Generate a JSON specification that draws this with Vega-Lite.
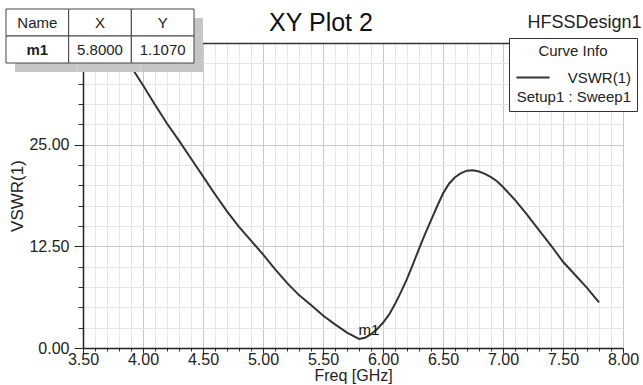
{
  "$schema": "https://vega.github.io/schema/vega-lite/v6.json",
  "width": 540,
  "height": 305,
  "autosize": {"type": "none"},
  "padding": {"left": 83, "top": 43, "right": 20, "bottom": 37},
  "background": "white",
  "title": {"text": "XY Plot 2", "fontSize": 25, "fontWeight": "normal", "color": "#111", "anchor": "middle", "frame": "group", "dx": -32, "offset": -27},
  "config": {"font": "Liberation Sans", "view": {"stroke": null}, "axis": {"zindex": 0}},
  "datasets": {
    "curve": [
      {"freq": 3.77, "vswr": 37.7}, {"freq": 3.9, "vswr": 34.6}, {"freq": 4.0, "vswr": 32.3},
      {"freq": 4.1, "vswr": 29.9}, {"freq": 4.2, "vswr": 27.6}, {"freq": 4.3, "vswr": 25.5},
      {"freq": 4.4, "vswr": 23.3}, {"freq": 4.5, "vswr": 21.1}, {"freq": 4.6, "vswr": 18.9},
      {"freq": 4.7, "vswr": 16.8}, {"freq": 4.8, "vswr": 14.9}, {"freq": 4.9, "vswr": 13.2},
      {"freq": 5.0, "vswr": 11.5}, {"freq": 5.1, "vswr": 9.7}, {"freq": 5.2, "vswr": 8.0},
      {"freq": 5.3, "vswr": 6.5}, {"freq": 5.4, "vswr": 5.3}, {"freq": 5.5, "vswr": 4.0},
      {"freq": 5.6, "vswr": 2.9}, {"freq": 5.7, "vswr": 1.9}, {"freq": 5.8, "vswr": 1.107},
      {"freq": 5.85, "vswr": 1.25}, {"freq": 5.9, "vswr": 1.7}, {"freq": 5.95, "vswr": 2.3},
      {"freq": 6.0, "vswr": 3.1}, {"freq": 6.05, "vswr": 4.1}, {"freq": 6.1, "vswr": 5.4},
      {"freq": 6.15, "vswr": 6.9}, {"freq": 6.2, "vswr": 8.5}, {"freq": 6.25, "vswr": 10.3},
      {"freq": 6.3, "vswr": 12.2}, {"freq": 6.35, "vswr": 14.0}, {"freq": 6.4, "vswr": 15.7},
      {"freq": 6.45, "vswr": 17.4}, {"freq": 6.5, "vswr": 19.0}, {"freq": 6.55, "vswr": 20.2},
      {"freq": 6.6, "vswr": 21.0}, {"freq": 6.65, "vswr": 21.5}, {"freq": 6.7, "vswr": 21.8},
      {"freq": 6.75, "vswr": 21.85}, {"freq": 6.8, "vswr": 21.7}, {"freq": 6.85, "vswr": 21.4},
      {"freq": 6.9, "vswr": 21.0}, {"freq": 6.95, "vswr": 20.5}, {"freq": 7.0, "vswr": 19.8},
      {"freq": 7.1, "vswr": 18.2}, {"freq": 7.2, "vswr": 16.4}, {"freq": 7.3, "vswr": 14.5},
      {"freq": 7.4, "vswr": 12.6}, {"freq": 7.5, "vswr": 10.6}, {"freq": 7.6, "vswr": 9.0},
      {"freq": 7.7, "vswr": 7.4}, {"freq": 7.8, "vswr": 5.6}
    ],
    "marker": [{"name": "m1", "freq": 5.8, "vswr": 1.107}],
    "cells": [
      {"col": "Name", "row": "head", "txt": "Name"},
      {"col": "X", "row": "head", "txt": "X"},
      {"col": "Y", "row": "head", "txt": "Y"},
      {"col": "Name", "row": "m1", "txt": "m1"},
      {"col": "X", "row": "m1", "txt": "5.8000"},
      {"col": "Y", "row": "m1", "txt": "1.1070"}
    ]
  },
  "layer": [
    {
      "data": {"name": "curve"},
      "mark": {"type": "line", "strokeOpacity": 0},
      "encoding": {
        "x": {"field": "freq", "type": "quantitative", "scale": {"domain": [3.5, 8], "nice": false, "zero": false},
          "axis": {"orient": "bottom", "values": [3.6,3.7,3.8,3.9,4.1,4.2,4.3,4.4,4.6,4.7,4.8,4.9,5.1,5.2,5.3,5.4,5.6,5.7,5.8,5.9,6.1,6.2,6.3,6.4,6.6,6.7,6.8,6.9,7.1,7.2,7.3,7.4,7.6,7.7,7.8,7.9],
            "labels": false, "domain": false, "ticks": true, "tickSize": 3, "tickColor": "#333", "grid": true, "gridColor": "#e6e6e6", "title": null}},
        "y": {"field": "vswr", "type": "quantitative", "scale": {"domain": [0, 37.5], "nice": false, "zero": false},
          "axis": {"orient": "left", "values": [2.5,5,7.5,10,15,17.5,20,22.5,27.5,30,32.5,35,37.5],
            "labels": false, "domain": false, "ticks": true, "tickSize": 5, "tickColor": "#333", "grid": true, "gridColor": "#e6e6e6", "title": null}}
      }
    },
    {
      "data": {"name": "curve"},
      "mark": {"type": "line", "clip": true, "strokeWidth": 2},
      "encoding": {
        "x": {"field": "freq", "type": "quantitative", "scale": {"domain": [3.5, 8], "nice": false, "zero": false},
          "axis": {"orient": "bottom", "values": [3.5,4,4.5,5,5.5,6,6.5,7,7.5,8], "format": ".2f", "labelFlush": false, "labelOverlap": false,
            "labelFontSize": 16, "labelColor": "#222", "labelPadding": -2, "tickSize": 5, "tickColor": "#222",
            "domainColor": "#222", "domainWidth": 1.5, "grid": true, "gridColor": "#c8c8c8",
            "title": "Freq [GHz]", "titleFontSize": 16, "titleFontWeight": "normal", "titleColor": "#222", "titlePadding": 0}},
        "y": {"field": "vswr", "type": "quantitative", "scale": {"domain": [0, 37.5], "nice": false, "zero": false},
          "axis": {"orient": "left", "values": [0, 12.5, 25], "format": ".2f", "labelFlush": false, "labelOverlap": false,
            "labelFontSize": 16, "labelColor": "#222", "labelPadding": 5, "tickSize": 9, "tickColor": "#222",
            "domainColor": "#222", "domainWidth": 1.5, "grid": true, "gridColor": "#c8c8c8",
            "title": "VSWR(1)", "titleFontSize": 17, "titleFontWeight": "normal", "titleColor": "#222", "titlePadding": 2}},
        "color": {"datum": "VSWR(1)", "type": "nominal", "title": "Curve Info",
          "scale": {"domain": ["VSWR(1)", "Setup1 : Sweep1"], "range": ["#333333", "#ffffff"]},
          "legend": {"orient": "none", "legendX": 426, "legendY": -5, "direction": "vertical",
            "fillColor": "white", "strokeColor": "#333", "padding": 6,
            "titleAnchor": "middle", "titleFontSize": 15, "titleFontWeight": "normal", "titleColor": "#222", "titlePadding": 10,
            "labelFontSize": 15, "labelColor": "#222", "labelAlign": "right", "labelOffset": 80, "labelLimit": 200,
            "symbolType": "stroke", "symbolSize": 1100, "symbolStrokeWidth": 2, "clipHeight": 17, "rowPadding": 2}}
      }
    },
    {
      "data": {"name": "curve"},
      "mark": {"type": "line", "strokeOpacity": 0},
      "encoding": {
        "x": {"field": "freq", "type": "quantitative", "scale": {"domain": [3.5, 8], "nice": false, "zero": false},
          "axis": {"orient": "top", "labels": false, "ticks": false, "grid": false, "domain": true, "domainColor": "#333", "domainWidth": 1.5,
            "title": "HFSSDesign1", "titleFontSize": 18, "titleFontWeight": "normal", "titleColor": "#222",
            "titleX": 558, "titleY": -16, "titleAlign": "right", "titleBaseline": "alphabetic", "titleAnchor": "end"}},
        "y": {"field": "vswr", "type": "quantitative", "scale": {"domain": [0, 37.5], "nice": false, "zero": false}, "axis": null}
      }
    },
    {
      "data": {"name": "marker"},
      "mark": {"type": "text", "fontSize": 15, "color": "#111", "dx": 10, "dy": -9},
      "encoding": {
        "x": {"field": "freq", "type": "quantitative", "scale": {"domain": [3.5, 8], "nice": false, "zero": false}, "axis": null},
        "y": {"field": "vswr", "type": "quantitative", "scale": {"domain": [0, 37.5], "nice": false, "zero": false}, "axis": null},
        "text": {"field": "name"}
      }
    },
    {
      "data": {"name": "cells"},
      "encoding": {
        "x": {"field": "col", "type": "nominal", "scale": {"type": "band", "domain": ["Name", "X", "Y"], "range": [-77, 111], "paddingInner": 0, "paddingOuter": 0}, "axis": null},
        "y": {"field": "row", "type": "nominal", "scale": {"type": "band", "domain": ["head", "m1"], "range": [-34, 20], "paddingInner": 0, "paddingOuter": 0}, "axis": null}
      },
      "layer": [
        {"mark": {"type": "rect", "fill": "#c6c6c6", "xOffset": 9, "yOffset": 9}},
        {"mark": {"type": "rect", "fill": "white", "stroke": "#444", "strokeWidth": 1}},
        {"transform": [{"filter": "datum.txt != 'm1'"}], "mark": {"type": "text", "fontSize": 15, "color": "#222"}, "encoding": {"text": {"field": "txt"}}},
        {"transform": [{"filter": "datum.txt == 'm1'"}], "mark": {"type": "text", "fontSize": 15, "fontWeight": "bold", "color": "#222"}, "encoding": {"text": {"field": "txt"}}}
      ]
    }
  ],
  "resolve": {"scale": {"x": "independent", "y": "independent"}}
}
